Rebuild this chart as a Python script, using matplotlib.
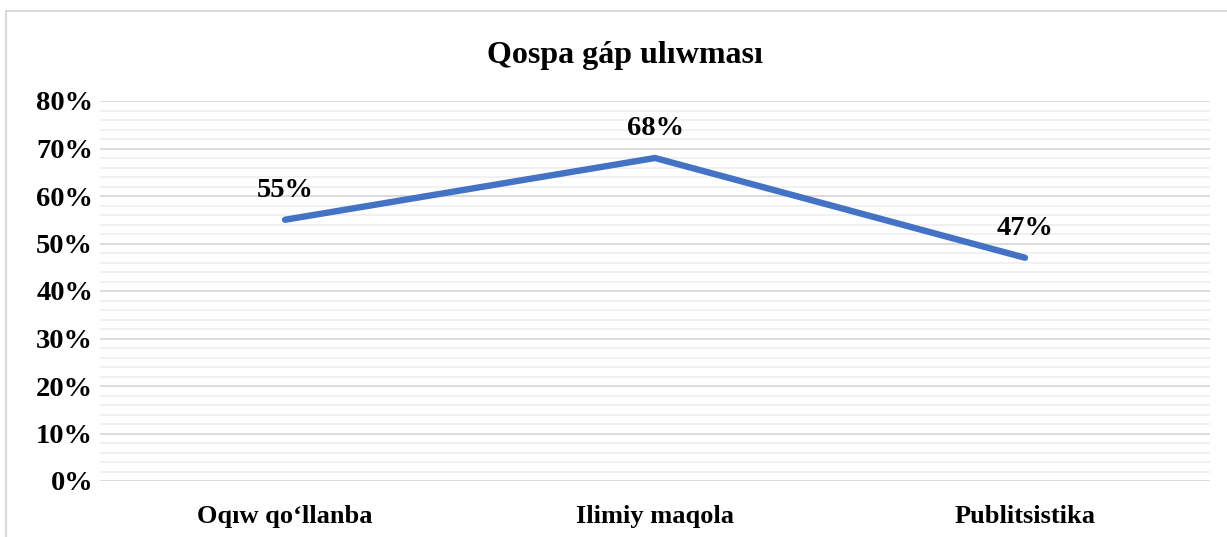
import matplotlib.pyplot as plt
from matplotlib.patches import Rectangle
from matplotlib.ticker import MultipleLocator, PercentFormatter

categories = ['Oqıw qo‘llanba', 'Ilimiy maqola', 'Publitsistika']
values = [55, 68, 47]

plt.rcParams['font.family'] = ['Liberation Serif', 'DejaVu Serif']
plt.rcParams['font.weight'] = 'bold'

W, H = 1227, 537
fig = plt.figure(figsize=(W / 100, H / 100), dpi=100)
ax = fig.add_axes([100 / W, 1 - 481 / H, 1110 / W, 380 / H])

# рамка вокруг всей диаграммы
fig.patches.append(Rectangle((6 / W, -0.1), 1.2, 1 - 11 / H + 0.1,
                             transform=fig.transFigure, fill=False,
                             edgecolor='#d9d9d9', linewidth=1.5))

x = range(len(categories))
ax.plot(x, values, color='#4472C4', linewidth=4.6, solid_capstyle='round',
        solid_joinstyle='miter')
for xi, v in zip(x, values):
    ax.annotate(f'{v}%', (xi, v), xytext=(0, 21), textcoords='offset points',
                ha='center', va='center', fontsize=20.5, fontweight='bold')

ax.set_xlim(-0.5, 2.5)
ax.set_ylim(0, 80)
ax.yaxis.set_major_locator(MultipleLocator(10))
ax.yaxis.set_minor_locator(MultipleLocator(2))
ax.yaxis.set_major_formatter(PercentFormatter(decimals=0))
ax.set_xticks(list(x))
ax.set_xticklabels(categories, fontsize=19)
ax.grid(axis='y', which='major', color='#d9d9d9', linewidth=1.3)
ax.grid(axis='y', which='minor', color='#f0f0f0', linewidth=1.3)
ax.set_axisbelow(True)
for s in ax.spines.values():
    s.set_visible(False)
ax.tick_params(axis='both', which='both', length=0)
ax.tick_params(axis='y', pad=5, labelsize=20.5)
ax.tick_params(axis='x', pad=17)

fig.text(625 / W, 1 - 55 / H, 'Qospa gáp ulıwması', ha='center', va='center',
         fontsize=23, fontweight='bold')

fig.savefig('out.png', dpi=100)
